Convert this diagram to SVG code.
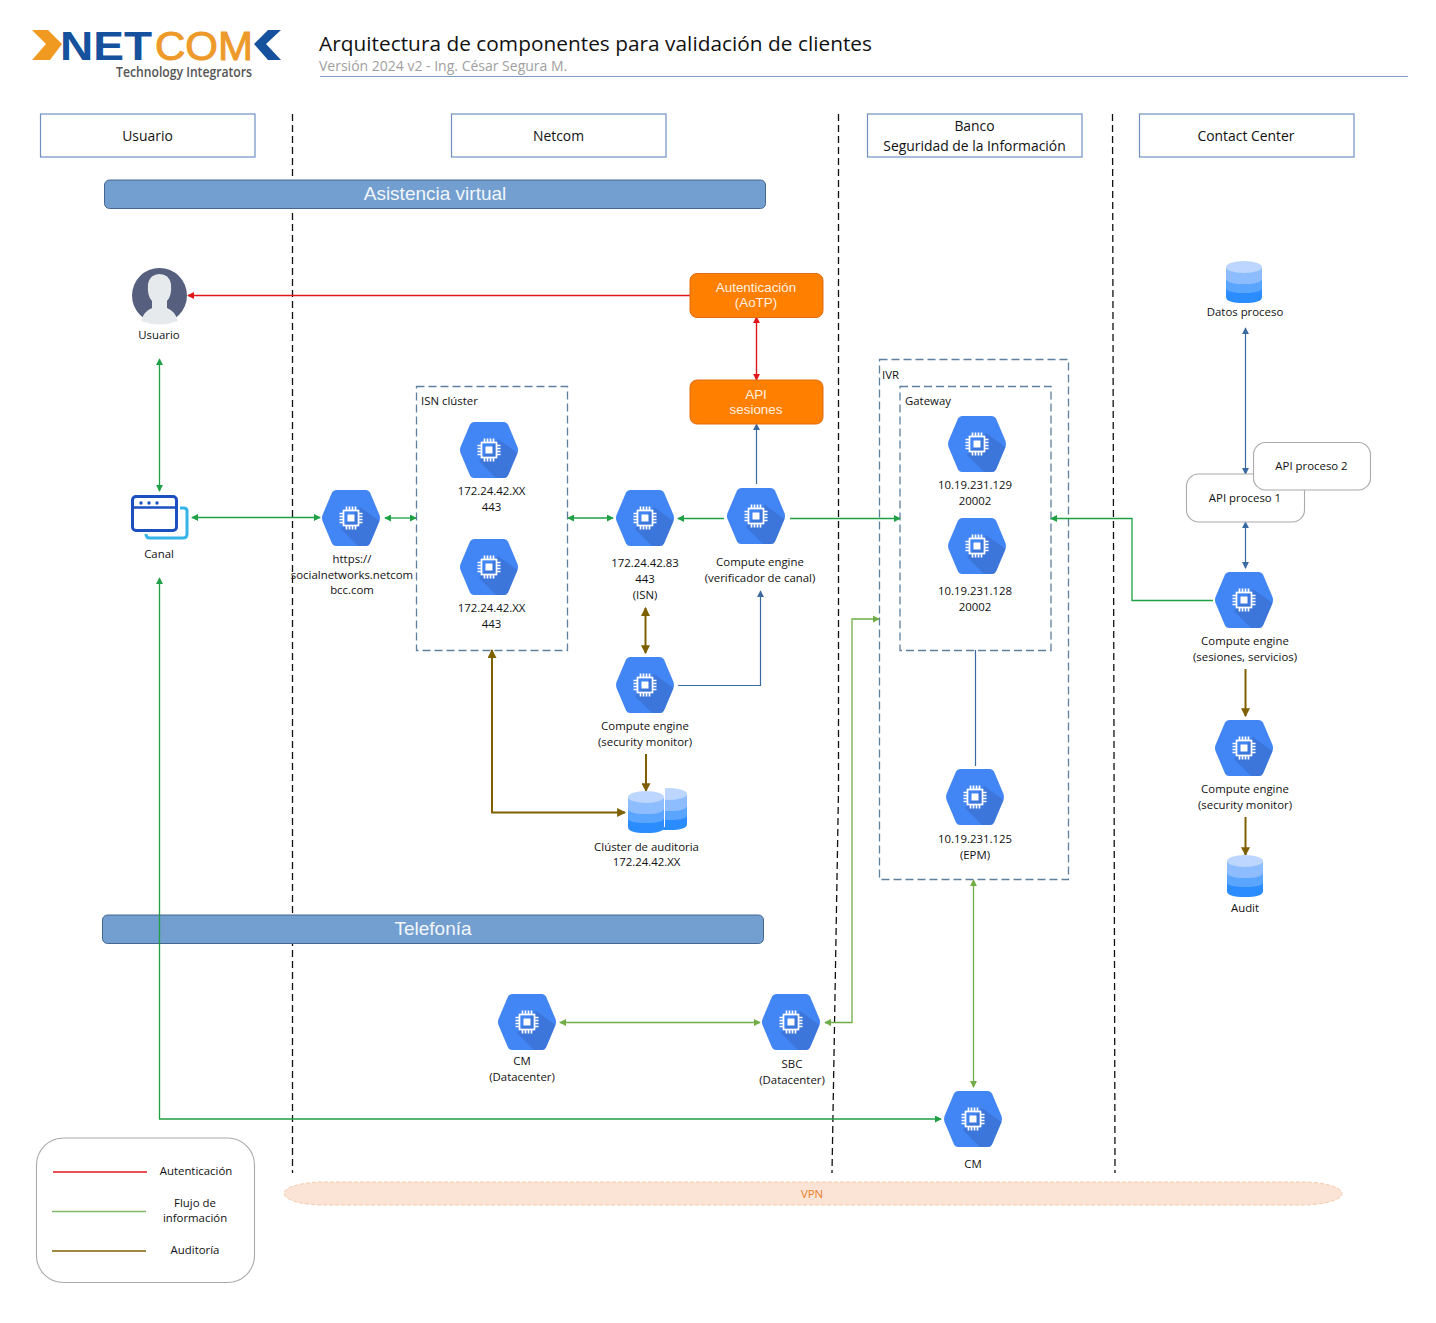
<svg xmlns="http://www.w3.org/2000/svg" xmlns:xlink="http://www.w3.org/1999/xlink" width="1436" height="1323" viewBox="0 0 1436 1323">
<style>
text{font-family:"Open Sans","Noto Sans","Liberation Sans",sans-serif;font-size:11.400px;fill:#111;text-anchor:middle}
.head{font-size:13.900px}
.hbox{fill:#fff;stroke:#6f8fc4;stroke-width:1.200}
.band{fill:#729fcf;stroke:#44678f;stroke-width:1}
.bandt{font-family:"Liberation Sans",sans-serif;font-size:19px;fill:#f2f6fb}
.orange{fill:#ff7f00;stroke:#e06c10;stroke-width:1}
.oranget{font-family:"Liberation Sans",sans-serif;font-size:13.400px;fill:#fff0e0}
.dash{fill:none;stroke:#111;stroke-width:1.300;stroke-dasharray:7 4}
.clu{fill:#fff;stroke:#5f7f9f;stroke-width:1.300;stroke-dasharray:8 4}
.l{text-anchor:start}
.round{fill:#fff;stroke:#aaa;stroke-width:1.100}
.c{fill:none;stroke-width:1.200}
.red{stroke:#e0161b;stroke-width:1.400}
.grn{stroke:#1fa045;stroke-width:1.300}
.lg{stroke:#70ad47;stroke-width:1.300}
.blu{stroke:#3b6aa0}
.aud{stroke:#7f6000;stroke-width:2}
</style>
<defs>
<marker id="ar" viewBox="0 0 8 8" refX="7" refY="4" markerWidth="7" markerHeight="7" orient="auto-start-reverse" markerUnits="userSpaceOnUse"><path d="M0 0L8 4L0 8Z" fill="#e0161b"/></marker>
<marker id="ag" viewBox="0 0 8 8" refX="7" refY="4" markerWidth="7" markerHeight="7" orient="auto-start-reverse" markerUnits="userSpaceOnUse"><path d="M0 0L8 4L0 8Z" fill="#1fa045"/></marker>
<marker id="al" viewBox="0 0 8 8" refX="7" refY="4" markerWidth="7" markerHeight="7" orient="auto-start-reverse" markerUnits="userSpaceOnUse"><path d="M0 0L8 4L0 8Z" fill="#70ad47"/></marker>
<marker id="ab" viewBox="0 0 8 8" refX="7" refY="4" markerWidth="7" markerHeight="7" orient="auto-start-reverse" markerUnits="userSpaceOnUse"><path d="M0 0L8 4L0 8Z" fill="#3b6aa0"/></marker>
<marker id="au" viewBox="0 0 8 8" refX="7" refY="4" markerWidth="9" markerHeight="9" orient="auto-start-reverse" markerUnits="userSpaceOnUse"><path d="M0 0L8 4L0 8Z" fill="#7f6000"/></marker>
<g id="ce">
<path d="M-15-28H15Q17.500-28 19-25.500L28.500-3Q29.500 0 28.500 3L19 25.500Q17.500 28 15 28H-15Q-17.500 28-19 25.500L-28.500 3Q-29.500 0-28.500-3L-19-25.500Q-17.500-28-15-28Z" fill="#4285f4"/>
<path d="M9-11L28.500 3L19 25.500Q17.500 28 15 28H7L-10 11Z" fill="#3b6fd0" opacity=".7"/>
<g fill="none" stroke="#fff" stroke-width="1.700">
<rect x="-7.500" y="-7.500" width="15" height="15"/>
<path d="M-4.500-8V-11.500M-1.500-8V-11.500M1.500-8V-11.500M4.500-8V-11.500M-4.500 8V11.500M-1.500 8V11.500M1.500 8V11.500M4.500 8V11.500M-8-4.500H-11.500M-8-1.500H-11.500M-8 1.500H-11.500M-8 4.500H-11.500M8-4.500H11.500M8-1.500H11.500M8 1.500H11.500M8 4.500H11.500"/>
</g>
<rect x="-3.500" y="-3.500" width="7" height="7" fill="#fff"/>
</g>
<g id="db">
<path d="M-18-12V17Q-18 23 0 23Q18 23 18 17V-12Z" fill="#2b8cff"/>
<path d="M-18-12V8Q-18 13 0 13Q18 13 18 8V-12Z" fill="#5aa5ff"/>
<path d="M-18-12V-2Q-18 4 0 4Q18 4 18-2V-12Z" fill="#8dbdff"/>
<ellipse cx="0" cy="-13" rx="18" ry="6" fill="#bcd6ff"/>
</g>
</defs>
<rect width="1436" height="1323" fill="#fff"/>

<g id="logo">
<path d="M32 30H48L62 44L50 60H32L46 44Z" fill="#f09a22"/>
<text x="106" y="59.500" textLength="92" lengthAdjust="spacingAndGlyphs" style="font-family:'Liberation Sans',sans-serif;font-size:41px;font-weight:bold;fill:#15519c">NET</text>
<text x="204" y="59.500" textLength="98" lengthAdjust="spacingAndGlyphs" style="font-family:'Liberation Sans',sans-serif;font-size:41px;fill:#ee9a2a;stroke:#ee9a2a;stroke-width:1">COM</text>
<path d="M281 30H268L254 44L268 60H281L266 44Z" fill="#15519c"/>
<text x="184" y="77" textLength="136" lengthAdjust="spacingAndGlyphs" style="font-size:14px;fill:#555;font-weight:600">Technology Integrators</text>
</g>
<g id="title">
<text x="319" y="51" textLength="553" style="font-size:20.800px;text-anchor:start;fill:#111">Arquitectura de componentes para validación de clientes</text>
<text x="319" y="71" style="font-size:14px;text-anchor:start;fill:#a0a0a0">Versión 2024 v2 - Ing. César Segura M.</text>
<path d="M320 76.500H1408" stroke="#7f9dbf" stroke-width="1.200"/>
</g>

<g id="swimlanes">
<path class="dash" d="M292.500 114V1173M838.500 114V790L832 1173M1112.500 114L1115 1173"/>
</g>

<g id="h-usuario"><rect class="hbox" x="40.500" y="114" width="214.500" height="43"/><text class="head" x="147.500" y="141">Usuario</text></g>
<g id="h-netcom"><rect class="hbox" x="451.500" y="114" width="214.500" height="43"/><text class="head" x="558.500" y="141">Netcom</text></g>
<g id="h-banco"><rect class="hbox" x="867.500" y="114" width="214.500" height="43"/><text class="head" x="974.500" y="131">Banco</text><text class="head" x="974.500" y="151">Seguridad de la Información</text></g>
<g id="h-contact"><rect class="hbox" x="1139.500" y="114" width="214.500" height="43"/><text class="head" x="1246" y="141">Contact Center</text></g>

<g id="band-virtual"><rect class="band" x="104.500" y="180" width="661" height="28.500" rx="5"/><text class="bandt" x="435" y="200">Asistencia virtual</text></g>
<g id="band-telefonia"><rect class="band" x="102.500" y="915" width="661" height="28.500" rx="5"/><text class="bandt" x="433" y="935">Telefonía</text></g>

<g id="isn-cluster"><rect class="clu" x="416.500" y="386.500" width="151" height="264"/><text class="l" x="421" y="405">ISN clúster</text></g>
<g id="ivr"><rect class="clu" x="879.500" y="359.500" width="189" height="520"/><text class="l" x="882" y="379">IVR</text></g>
<g id="gateway"><rect class="clu" x="900" y="386.500" width="151" height="264"/><text class="l" x="905" y="405">Gateway</text></g>

<g id="connectors">
<path class="c red" marker-end="url(#ar)" d="M690 295.500H188"/>
<path class="c red" marker-start="url(#ar)" marker-end="url(#ar)" d="M756.500 317V380"/>
<path class="c blu" marker-end="url(#ab)" d="M756.500 484V424"/>
<path class="c grn" marker-start="url(#ag)" marker-end="url(#ag)" d="M159.500 359V491"/>
<path class="c grn" marker-start="url(#ag)" marker-end="url(#ag)" d="M192 517.500H320"/>
<path class="c grn" marker-start="url(#ag)" marker-end="url(#ag)" d="M385 518H416"/>
<path class="c grn" marker-start="url(#ag)" marker-end="url(#ag)" d="M568 518H613"/>
<path class="c grn" marker-end="url(#ag)" d="M724 518.500H678"/>
<path class="c grn" marker-end="url(#ag)" d="M790 518.500H900"/>
<path class="c grn" marker-end="url(#ag)" d="M1213 600.500H1132V518.500H1051"/>
<path class="c grn" marker-start="url(#ag)" marker-end="url(#ag)" d="M159.500 578V1119H941"/>
<path class="c lg" marker-start="url(#al)" marker-end="url(#al)" d="M560 1022.500H760"/>
<path class="c lg" marker-start="url(#al)" marker-end="url(#al)" d="M825 1022.500H852V619H879"/>
<path class="c lg" marker-start="url(#al)" marker-end="url(#al)" d="M973.500 880V1087"/>
<path class="c blu" d="M975.500 650V766"/>
<path class="c blu" marker-end="url(#ab)" d="M678 685.500H760.500V591"/>
<path class="c blu" marker-start="url(#ab)" marker-end="url(#ab)" d="M1245.500 328V474"/>
<path class="c blu" marker-start="url(#ab)" marker-end="url(#ab)" d="M1245.500 522V568"/>
<path class="c aud" marker-start="url(#au)" marker-end="url(#au)" d="M645.500 608V653"/>
<path class="c aud" marker-end="url(#au)" d="M646 754V791"/>
<path class="c aud" marker-start="url(#au)" marker-end="url(#au)" d="M492 650V812.500H625"/>
<path class="c aud" marker-end="url(#au)" d="M1245.500 669V716"/>
<path class="c aud" marker-end="url(#au)" d="M1245.500 817V855"/>
</g>

<g id="n-usuario">
<circle cx="159.500" cy="295.500" r="27.500" fill="#56607e"/>
<path d="M141 321Q144 311 152 308V301Q147 296 148 284Q150 274 159.500 274Q169 274 171 284Q172 296 167 301V308Q175 311 178 321Q159.500 328 141 321Z" fill="#e6eaec"/>
<text x="159" y="339">Usuario</text>
</g>
<g id="n-canal">
<path d="M180 508H184Q187 508 187 511V534Q187 538 183 538H150Q146 538 146 534" fill="none" stroke="#35b4ea" stroke-width="3"/>
<rect x="132.500" y="496.500" width="44" height="34" rx="3.500" fill="#fff" stroke="#1c4fc0" stroke-width="3"/>
<path d="M133 507.500H176" stroke="#1c4fc0" stroke-width="2.500"/>
<circle cx="141" cy="503" r="1.700" fill="#1c4fc0"/><circle cx="149" cy="503" r="1.700" fill="#1c4fc0"/><circle cx="157" cy="503" r="1.700" fill="#1c4fc0"/>
<text x="159" y="558">Canal</text>
</g>
<g id="n-social"><use href="#ce" x="351" y="518"/><text x="352" y="563">https://</text><text x="352" y="579">socialnetworks.netcom</text><text x="352" y="594">bcc.com</text></g>
<g id="n-isn1"><use href="#ce" x="489" y="450"/><text x="491.500" y="495">172.24.42.XX</text><text x="491.500" y="511">443</text></g>
<g id="n-isn2"><use href="#ce" x="489" y="567"/><text x="491.500" y="612">172.24.42.XX</text><text x="491.500" y="628">443</text></g>
<g id="n-isn"><use href="#ce" x="645" y="518"/><text x="645" y="567">172.24.42.83</text><text x="645" y="583">443</text><text x="645" y="599">(ISN)</text></g>
<g id="n-verificador"><use href="#ce" x="756" y="516"/><text x="760" y="566">Compute engine</text><text x="760" y="582">(verificador de canal)</text></g>
<g id="n-secmon"><use href="#ce" x="645" y="685"/><text x="645" y="730">Compute engine</text><text x="645" y="746">(security monitor)</text></g>
<g id="n-auditoria">
<use href="#db" x="669" y="807"/>
<path d="M651 787H665V827L651 829Z" fill="#fff"/>
<use href="#db" x="646" y="810"/>
<text x="646.500" y="851">Clúster de auditoria</text><text x="646.500" y="866">172.24.42.XX</text></g>
<g id="n-autenticacion"><rect class="orange" x="690" y="273.500" width="133" height="44" rx="7"/><text class="oranget" x="756" y="292">Autenticación</text><text class="oranget" x="756" y="307">(AoTP)</text></g>
<g id="n-api"><rect class="orange" x="690" y="380" width="133" height="44" rx="7"/><text class="oranget" x="756" y="399">API</text><text class="oranget" x="756" y="414">sesiones</text></g>
<g id="n-gw1"><use href="#ce" x="977" y="444"/><text x="975" y="489">10.19.231.129</text><text x="975" y="505">20002</text></g>
<g id="n-gw2"><use href="#ce" x="977" y="546"/><text x="975" y="595">10.19.231.128</text><text x="975" y="611">20002</text></g>
<g id="n-epm"><use href="#ce" x="975" y="797"/><text x="975" y="843">10.19.231.125</text><text x="975" y="859">(EPM)</text></g>
<g id="n-datos"><use href="#db" x="1244" y="280"/><text x="1245" y="316">Datos proceso</text></g>
<g id="n-api1"><rect class="round" x="1186.500" y="474" width="118" height="48" rx="12"/><text x="1245" y="502">API proceso 1</text></g>
<g id="n-api2"><rect class="round" x="1253.500" y="442.500" width="117" height="47.500" rx="12"/><text x="1311.500" y="470">API proceso 2</text></g>
<g id="n-sesiones"><use href="#ce" x="1244" y="600"/><text x="1245" y="645">Compute engine</text><text x="1245" y="661">(sesiones, servicios)</text></g>
<g id="n-secmon2"><use href="#ce" x="1244" y="748"/><text x="1245" y="793">Compute engine</text><text x="1245" y="809">(security monitor)</text></g>
<g id="n-audit"><use href="#db" x="1245" y="874"/><text x="1245" y="912">Audit</text></g>
<g id="n-cmdc"><use href="#ce" x="527" y="1022"/><text x="522" y="1065">CM</text><text x="522" y="1081">(Datacenter)</text></g>
<g id="n-sbc"><use href="#ce" x="791" y="1022"/><text x="792" y="1068">SBC</text><text x="792" y="1084">(Datacenter)</text></g>
<g id="n-cm"><use href="#ce" x="973" y="1119"/><text x="973" y="1168">CM</text></g>

<g id="vpn"><rect x="284" y="1182" width="1058" height="23" rx="40" ry="11.500" fill="#fbe4d5" stroke="#f4c9a8" stroke-width="1" stroke-dasharray="4 2"/><text x="812" y="1198" style="fill:#e8812c">VPN</text></g>

<g id="legend">
<rect class="round" x="36.500" y="1138" width="218" height="144.500" rx="27"/>
<path d="M53 1172H147" stroke="#e0161b" stroke-width="1.400"/>
<path d="M52 1211.500H146" stroke="#7fb86a" stroke-width="1.400"/>
<path d="M52 1251H146" stroke="#7f6000" stroke-width="1.400"/>
<text x="196" y="1175">Autenticación</text>
<text x="195" y="1207">Flujo de</text><text x="195" y="1222">información</text>
<text x="195" y="1254">Auditoría</text>
</g>
</svg>
